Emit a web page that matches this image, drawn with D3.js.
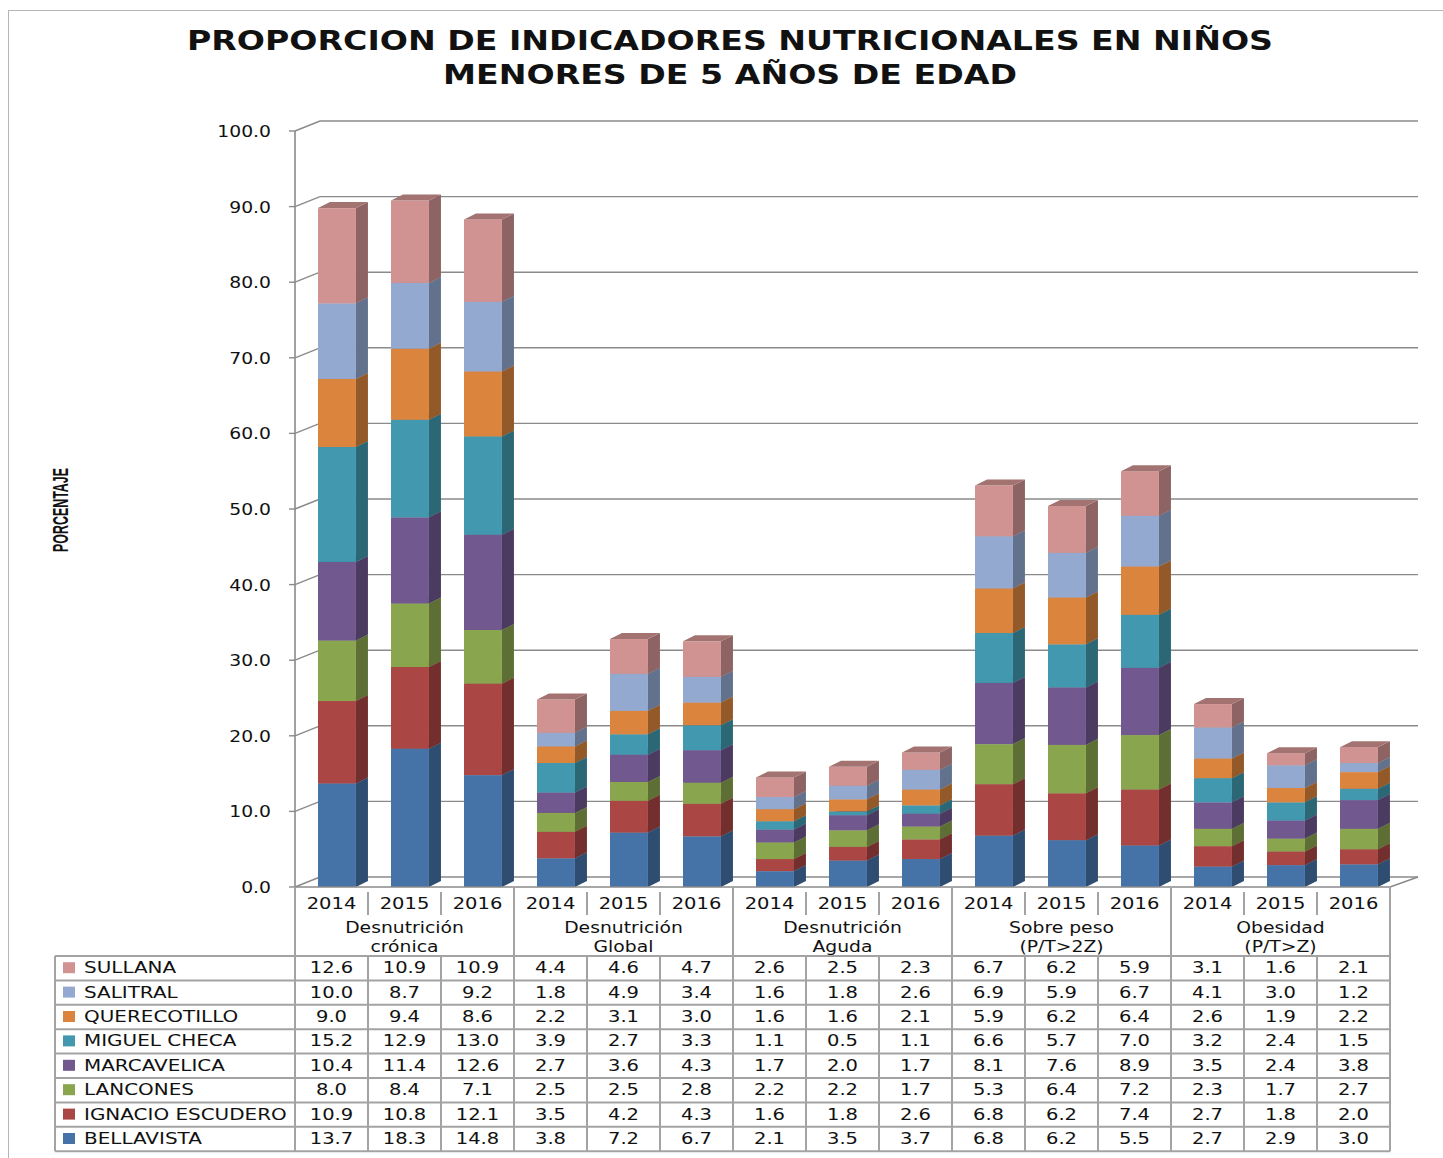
<!DOCTYPE html>
<html>
<head>
<meta charset="utf-8">
<script src="https://cdn.jsdelivr.net/npm/d3@7"></script>
<style>
  body { margin: 0; background: #fff; }
  text { font-family: "DejaVu Sans", Verdana, sans-serif; fill: #111; }
</style>
</head>
<body>
<div id="chart"></div>
<script>
// Chart data
var years = ["2014", "2015", "2016"];
var categories = [
  ["Desnutrición", "crónica"],
  ["Desnutrición", "Global"],
  ["Desnutrición", "Aguda"],
  ["Sobre peso", "(P/T>2Z)"],
  ["Obesidad", "(P/T>Z)"]
];
// stack order, bottom to top
var seriesNames = ["BELLAVISTA", "IGNACIO ESCUDERO", "LANCONES", "MARCAVELICA",
  "MIGUEL CHECA", "QUERECOTILLO", "SALITRAL", "SULLANA"];
var seriesColors = ["#4572A7", "#AA4643", "#89A54E", "#71588F",
  "#4198AF", "#DB843D", "#93A9CF", "#D19392"];

var bellavista      = [13.7, 18.3, 14.8, 3.8, 7.2, 6.7, 2.1, 3.5, 3.7, 6.8, 6.2, 5.5, 2.7, 2.9, 3.0];
var ignacioEscudero = [10.9, 10.8, 12.1, 3.5, 4.2, 4.3, 1.6, 1.8, 2.6, 6.8, 6.2, 7.4, 2.7, 1.8, 2.0];
var lancones        = [8.0, 8.4, 7.1, 2.5, 2.5, 2.8, 2.2, 2.2, 1.7, 5.3, 6.4, 7.2, 2.3, 1.7, 2.7];
var marcavelica     = [10.4, 11.4, 12.6, 2.7, 3.6, 4.3, 1.7, 2.0, 1.7, 8.1, 7.6, 8.9, 3.5, 2.4, 3.8];
var miguelCheca     = [15.2, 12.9, 13.0, 3.9, 2.7, 3.3, 1.1, 0.5, 1.1, 6.6, 5.7, 7.0, 3.2, 2.4, 1.5];
var querecotillo    = [9.0, 9.4, 8.6, 2.2, 3.1, 3.0, 1.6, 1.6, 2.1, 5.9, 6.2, 6.4, 2.6, 1.9, 2.2];
var salitral        = [10.0, 8.7, 9.2, 1.8, 4.9, 3.4, 1.6, 1.8, 2.6, 6.9, 5.9, 6.7, 4.1, 3.0, 1.2];
var sullana         = [12.6, 10.9, 10.9, 4.4, 4.6, 4.7, 2.6, 2.5, 2.3, 6.7, 6.2, 5.9, 3.1, 1.6, 2.1];

var seriesValues = [bellavista, ignacioEscudero, lancones, marcavelica,
  miguelCheca, querecotillo, salitral, sullana];

var yTicks = [0, 10, 20, 30, 40, 50, 60, 70, 80, 90, 100];

// SVG size
var svgWidth = 1443;
var svgHeight = 1158;

var svg = d3.select("#chart")
  .append("svg")
  .attr("width", svgWidth)
  .attr("height", svgHeight);

// stretch text horizontally, like the stretched original picture
function stretch(sel, k) {
  sel.each(function() {
    var w = this.getComputedTextLength();
    d3.select(this).attr("textLength", w * k).attr("lengthAdjust", "spacingAndGlyphs");
  });
}

// Outer chart border
svg.append("rect")
  .attr("x", 8.5).attr("y", 10.5)
  .attr("width", 1460).attr("height", 1170)
  .attr("fill", "none")
  .attr("stroke", "#b5b5b5");

// Scales
var nCols = categories.length * years.length;
var xScale = d3.scaleBand()
  .domain(d3.range(nCols))
  .range([295, 1390]);
var bw = xScale.bandwidth();

var yScale = d3.scaleLinear()
  .domain([0, 100])
  .range([887, 131]);

// 3D offsets: back wall and bar depth
var wallDx = 25, wallDy = -10;
var barDx = 12, barDy = -6;
var gridColor = "#8a8a8a";

// Back wall gridlines and side wall diagonals
var wall = svg.append("g");
yTicks.forEach(function(t) {
  var yf = yScale(t);
  wall.append("line")
    .attr("x1", 295 + wallDx).attr("x2", 1390 + wallDx + 3)
    .attr("y1", yf + wallDy).attr("y2", yf + wallDy)
    .attr("stroke", gridColor).attr("stroke-width", 1.4);
  wall.append("line")
    .attr("x1", 295).attr("x2", 295 + wallDx)
    .attr("y1", yf).attr("y2", yf + wallDy)
    .attr("stroke", gridColor).attr("stroke-width", 1.4);
  wall.append("line")
    .attr("x1", 289).attr("x2", 295)
    .attr("y1", yf).attr("y2", yf)
    .attr("stroke", gridColor).attr("stroke-width", 1.4);
});

// Floor right edge and front axis line
wall.append("line")
  .attr("x1", 1390).attr("x2", 1390 + wallDx + 3)
  .attr("y1", yScale(0)).attr("y2", yScale(0) + wallDy)
  .attr("stroke", gridColor).attr("stroke-width", 1.4);
wall.append("line")
  .attr("x1", 295).attr("x2", 295)
  .attr("y1", yScale(100)).attr("y2", yScale(0))
  .attr("stroke", gridColor).attr("stroke-width", 1.6);

// Y tick labels
var yLabels = svg.append("g").selectAll("text")
  .data(yTicks)
  .enter()
  .append("text")
  .attr("x", 271)
  .attr("y", d => yScale(d) + 6)
  .attr("text-anchor", "end")
  .style("font-size", "15px")
  .text(d => d.toFixed(1));
stretch(yLabels, 1.25);

// Stacked 3D bars
var barsGroup = svg.append("g");
d3.range(nCols).forEach(function(i) {
  var x0 = xScale(i) + bw * 0.315;
  var w = bw * 0.52;
  var base = 0;
  seriesValues.forEach(function(vals, s) {
    var v = vals[i];
    var yb = yScale(base);
    var yt = yScale(base + v);
    var c = seriesColors[s];
    // side face
    barsGroup.append("polygon")
      .attr("points", [[x0 + w, yb], [x0 + w + barDx, yb + barDy], [x0 + w + barDx, yt + barDy], [x0 + w, yt]].join(" "))
      .attr("fill", d3.color(c).darker(1.1));
    // front face
    barsGroup.append("rect")
      .attr("x", x0).attr("y", yt)
      .attr("width", w).attr("height", yb - yt)
      .attr("fill", c);
    // top face
    barsGroup.append("polygon")
      .attr("points", [[x0, yt], [x0 + w, yt], [x0 + w + barDx, yt + barDy], [x0 + barDx, yt + barDy]].join(" "))
      .attr("fill", d3.color(c).darker(0.7));
    base += v;
  });
});

// Floor front edge
svg.append("line")
  .attr("x1", 295).attr("x2", 1390)
  .attr("y1", yScale(0)).attr("y2", yScale(0))
  .attr("stroke", gridColor).attr("stroke-width", 1.6);

// Title
svg.append("text")
  .attr("x", 730).attr("y", 50)
  .attr("text-anchor", "middle")
  .attr("textLength", 1086).attr("lengthAdjust", "spacingAndGlyphs")
  .style("font-size", "27px").style("font-weight", "bold")
  .text("PROPORCION DE INDICADORES NUTRICIONALES EN NIÑOS");
svg.append("text")
  .attr("x", 730).attr("y", 84)
  .attr("text-anchor", "middle")
  .attr("textLength", 574).attr("lengthAdjust", "spacingAndGlyphs")
  .style("font-size", "27px").style("font-weight", "bold")
  .text("MENORES DE 5 AÑOS DE EDAD");

// Y axis title
svg.append("text")
  .attr("transform", "translate(68, 510) rotate(-90)")
  .attr("text-anchor", "middle")
  .attr("textLength", 84).attr("lengthAdjust", "spacingAndGlyphs")
  .style("font-family", "'Liberation Sans Narrow', 'Liberation Sans', sans-serif")
  .style("font-size", "22px").style("font-weight", "bold")
  .text("PORCENTAJE");

// Category axis labels and data table
var tableColor = "#a3a3a3";
var tbl = svg.append("g");
var rowTop = 956, rowH = 24.4, tableBottom = rowTop + rowH * seriesNames.length;

// year labels
var yearText = tbl.selectAll(".year")
  .data(d3.range(nCols))
  .enter()
  .append("text")
  .attr("x", d => xScale(d) + bw / 2)
  .attr("y", 909)
  .attr("text-anchor", "middle")
  .style("font-size", "15px")
  .text(d => years[d % 3]);
stretch(yearText, 1.3);

// category labels
categories.forEach(function(cat, k) {
  var cx = xScale(k * 3) + bw * 1.5;
  cat.forEach(function(line, j) {
    var t = tbl.append("text")
      .attr("x", cx).attr("y", 933 + j * 19)
      .attr("text-anchor", "middle")
      .style("font-size", "15px")
      .text(line);
    stretch(t, 1.25);
  });
});

// vertical lines
d3.range(nCols + 1).forEach(function(i) {
  var xv = 295 + i * bw;
  if (i % 3 === 0) {
    tbl.append("line")
      .attr("x1", xv).attr("x2", xv)
      .attr("y1", 887).attr("y2", tableBottom)
      .attr("stroke", tableColor).attr("stroke-width", 2);
  } else {
    tbl.append("line")
      .attr("x1", xv).attr("x2", xv)
      .attr("y1", 892).attr("y2", 915)
      .attr("stroke", tableColor).attr("stroke-width", 2);
    tbl.append("line")
      .attr("x1", xv).attr("x2", xv)
      .attr("y1", rowTop).attr("y2", tableBottom)
      .attr("stroke", tableColor).attr("stroke-width", 2);
  }
});
tbl.append("line")
  .attr("x1", 55).attr("x2", 55)
  .attr("y1", rowTop).attr("y2", tableBottom)
  .attr("stroke", tableColor).attr("stroke-width", 2);

// horizontal lines
d3.range(seriesNames.length + 1).forEach(function(r) {
  tbl.append("line")
    .attr("x1", 55).attr("x2", 1390)
    .attr("y1", rowTop + r * rowH).attr("y2", rowTop + r * rowH)
    .attr("stroke", tableColor).attr("stroke-width", 2);
});

// rows: SULLANA first (top of stack) down to BELLAVISTA
var rowOrder = d3.range(seriesNames.length).reverse();
rowOrder.forEach(function(s, r) {
  var cy = rowTop + r * rowH + rowH / 2;
  tbl.append("rect")
    .attr("x", 63).attr("y", cy - 6)
    .attr("width", 12).attr("height", 11)
    .attr("fill", seriesColors[s]);
  var lbl = tbl.append("text")
    .attr("x", 84).attr("y", cy + 5)
    .style("font-size", "15px")
    .text(seriesNames[s]);
  stretch(lbl, 1.33);
  var nums = tbl.append("g").selectAll("text")
    .data(seriesValues[s])
    .enter()
    .append("text")
    .attr("x", (d, i) => xScale(i) + bw / 2)
    .attr("y", cy + 5)
    .attr("text-anchor", "middle")
    .style("font-size", "15px")
    .text(d => d.toFixed(1));
  stretch(nums, 1.3);
});
</script>
</body>
</html>
